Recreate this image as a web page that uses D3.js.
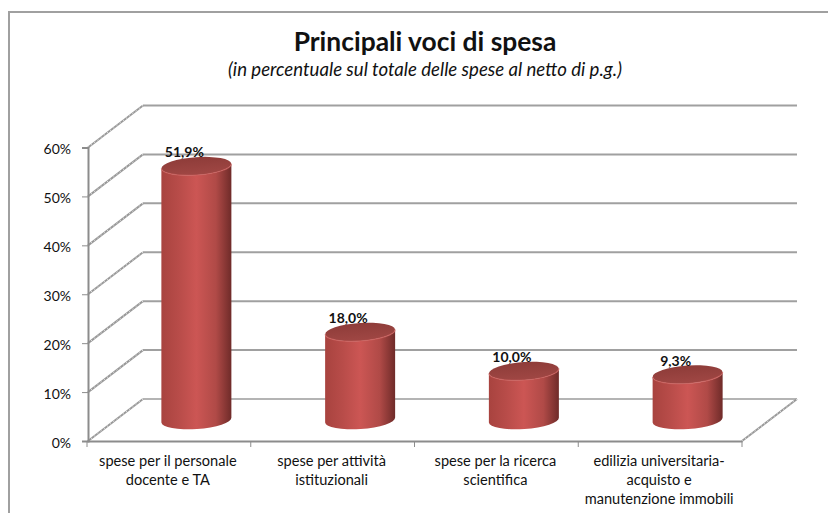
<!DOCTYPE html>
<html>
<head>
<meta charset="utf-8">
<script src="https://cdnjs.cloudflare.com/ajax/libs/d3/7.8.5/d3.min.js"></script>
<style>
body { margin: 0; background: #fff; }
text { font-family: Lato, "Open Sans", sans-serif; fill: #111; }
</style>
</head>
<body>
<svg id="chart" width="828" height="513" style="display:block"></svg>
<script>
const categories = ["personale", "attivita", "ricerca", "edilizia"];
const values = [51.9, 18.0, 10.0, 9.3];
const valueLabels = ["51,9%", "18,0%", "10,0%", "9,3%"];
const yTicks = [0, 10, 20, 30, 40, 50, 60];
const categoryLines = [
    ["spese per il personale", "docente e TA"],
    ["spese per attività", "istituzionali"],
    ["spese per la ricerca", "scientifica"],
    ["edilizia universitaria-", "acquisto e", "manutenzione immobili"]
];

const svg = d3.select("#chart");

// depth of the fake 3d box
const depthX = 55;
const depthY = 42;

const x = d3.scaleBand().domain(categories).range([87, 742]);
const y = d3.scaleLinear().domain([0, 60]).range([441, 147.5]);

// outer frame of the chart, only top and left show
svg.append("path")
    .attr("d", "M9,513 V12 H828")
    .attr("fill", "none")
    .attr("stroke", "#a0a0a0")
    .attr("stroke-width", 2);

// titles
svg.append("text")
    .attr("x", 425).attr("y", 51)
    .attr("text-anchor", "middle")
    .style("font-size", "26.4px")
    .style("font-weight", "700")
    .text("Principali voci di spesa");
svg.append("text")
    .attr("x", 425).attr("y", 76)
    .attr("text-anchor", "middle")
    .style("font-size", "18.6px")
    .style("font-style", "italic")
    .text("(in percentuale sul totale delle spese al netto di p.g.)");

// back wall gridlines
svg.append("g").selectAll("line")
    .data(yTicks)
    .join("line")
    .attr("x1", 88 + depthX)
    .attr("x2", 742 + depthX)
    .attr("y1", d => y(d) - depthY)
    .attr("y2", d => y(d) - depthY)
    .attr("stroke", d => d === 0 ? "#b4b4b4" : "#a0a0a0")
    .attr("stroke-width", 2);

// side wall diagonals, dark line with a dashed light one on top
const sideWall = svg.append("g");
sideWall.selectAll("line.dark")
    .data(yTicks)
    .join("line")
    .attr("class", "dark")
    .attr("x1", 88)
    .attr("x2", 88 + depthX)
    .attr("y1", d => y(d))
    .attr("y2", d => y(d) - depthY)
    .attr("stroke", "#999")
    .attr("stroke-width", 2);
sideWall.selectAll("line.light")
    .data(yTicks)
    .join("line")
    .attr("class", "light")
    .attr("x1", 88)
    .attr("x2", 88 + depthX)
    .attr("y1", d => y(d))
    .attr("y2", d => y(d) - depthY)
    .attr("stroke", "#f2f2f2")
    .attr("stroke-width", 1)
    .attr("stroke-dasharray", "1 3");

// floor diagonal on the right
svg.append("line")
    .attr("x1", 742).attr("y1", y(0))
    .attr("x2", 742 + depthX).attr("y2", y(0) - depthY)
    .attr("stroke", "#999")
    .attr("stroke-width", 2);
svg.append("line")
    .attr("x1", 742).attr("y1", y(0))
    .attr("x2", 742 + depthX).attr("y2", y(0) - depthY)
    .attr("stroke", "#f2f2f2")
    .attr("stroke-dasharray", "1 3");

// axes
const yAxis = d3.axisLeft(y).tickValues(yTicks).tickSize(6).tickFormat(d => d + "%");
const yG = svg.append("g").attr("transform", "translate(88,0)").call(yAxis);
yG.select(".domain").attr("stroke", "#8c8c8c").attr("stroke-width", 2);
yG.selectAll(".tick line").attr("stroke", "#8c8c8c");
yG.selectAll("text")
    .style("font-size", "14px")
    .style("font-family", "Lato")
    .attr("x", -17)
    .attr("dy", "0.45em");

const xAxis = d3.axisBottom(x).tickValues([]).tickSize(0);
const xG = svg.append("g").attr("transform", "translate(0,441)").call(xAxis);
xG.select(".domain").attr("stroke", "#8c8c8c").attr("stroke-width", 2);

// ticks sit between the categories
svg.append("g").selectAll("line")
    .data(x.domain().map(d => x(d)).concat(x.range()[1]))
    .join("line")
    .attr("x1", d => d).attr("x2", d => d)
    .attr("y1", 441).attr("y2", 447)
    .attr("stroke", "#8c8c8c");

// category labels
const labels = svg.append("g").selectAll("text")
    .data(categories)
    .join("text")
    .attr("y", 466)
    .attr("text-anchor", "middle")
    .style("font-size", "14.6px");
labels.each(function (d, i) {
    d3.select(this).selectAll("tspan")
        .data(categoryLines[i])
        .join("tspan")
        .attr("x", x(d) + x.bandwidth() / 2 - 1)
        .attr("dy", (t, j) => j === 0 ? 0 : 19)
        .text(t => t);
});

// cylinder shading
const defs = svg.append("defs");
const side = defs.append("linearGradient").attr("id", "side");
side.append("stop").attr("offset", "0%").attr("stop-color", "#a8433f");
side.append("stop").attr("offset", "25%").attr("stop-color", "#b84c49");
side.append("stop").attr("offset", "50%").attr("stop-color", "#cc5654");
side.append("stop").attr("offset", "78%").attr("stop-color", "#b04a47");
side.append("stop").attr("offset", "100%").attr("stop-color", "#6f2b29");
const lid = defs.append("linearGradient").attr("id", "lid").attr("x2", 0).attr("y2", 1);
lid.append("stop").attr("offset", "0%").attr("stop-color", "#8e3c39");
lid.append("stop").attr("offset", "100%").attr("stop-color", "#a04744");

// cylinders, tilted a little like the excel 3d view
const rx = 35;
const ry = 9;
const tilt = -4;
const barCx = d => x(d) + x.bandwidth() / 2 + depthX / 2;
const base = y(0) - depthY / 2;
const top_ = v => y(v) - depthY / 2;

// y offset of the tilted ellipse at the left and right edge
const edge = rx * Math.sin(-tilt * Math.PI / 180);

const bars = svg.append("g").selectAll("g")
    .data(categories)
    .join("g");

bars.append("path")
    .attr("d", (d, i) => {
        const c = barCx(d);
        const t = top_(values[i]);
        return `M${c - rx},${t + edge} L${c - rx},${base + edge}`
            + ` A${rx},${ry} ${tilt} 0 0 ${c + rx},${base - edge}`
            + ` L${c + rx},${t - edge}`
            + ` A${rx},${ry} ${tilt} 0 1 ${c - rx},${t + edge} Z`;
    })
    .attr("fill", "url(#side)");

bars.append("ellipse")
    .attr("cx", d => barCx(d))
    .attr("cy", (d, i) => top_(values[i]))
    .attr("rx", rx)
    .attr("ry", ry)
    .attr("transform", (d, i) => `rotate(${tilt} ${barCx(d)} ${top_(values[i])})`)
    .attr("fill", "url(#lid)");

// light rim along the front of the lid
bars.append("path")
    .attr("d", (d, i) => {
        const c = barCx(d);
        const t = top_(values[i]);
        return `M${c - rx},${t + edge} A${rx},${ry} ${tilt} 0 0 ${c + rx},${t - edge}`;
    })
    .attr("fill", "none")
    .attr("stroke", "#cf6360")
    .attr("stroke-opacity", 0.7)
    .attr("stroke-width", 1.2);

// value labels
svg.append("g").selectAll("text")
    .data(categories)
    .join("text")
    .attr("x", d => barCx(d) - 12)
    .attr("y", (d, i) => top_(values[i]) - 9)
    .attr("text-anchor", "middle")
    .style("font-size", "14px")
    .style("font-weight", "700")
    .text((d, i) => valueLabels[i]);
</script>
</body>
</html>
